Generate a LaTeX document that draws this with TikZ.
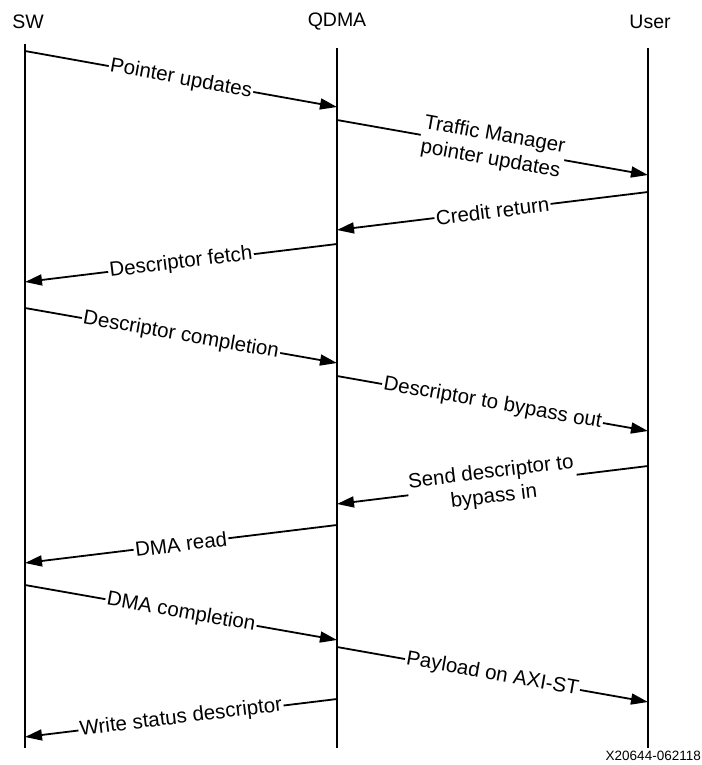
\documentclass[tikz,border=0pt]{standalone}
\usepackage{fontspec}
\setmainfont{Liberation Sans}
\usetikzlibrary{arrows.meta}
\begin{document}
\begin{tikzpicture}[x=1pt,y=-1pt,
  lifeline/.style={line width=2pt},
  msg/.style={line width=1.8pt,-{Triangle[length=17pt,width=11pt]}},
  lbl/.style={fill=white,inner xsep=1.5pt,inner ysep=1pt,sloped,align=center,
    font=\fontsize{20.5}{24.5}\selectfont},
  head/.style={font=\fontsize{19.5}{21}\selectfont},
  tag/.style={inner sep=0pt,font=\fontsize{13.5}{14}\selectfont}]
\useasboundingbox (0,0) rectangle (701,765);

% participants
\node[head] (swh) at (28,22) {SW};
\node[head] (qdh) at (337,22) {QDMA};
\node[head] (ush) at (650,22) {User};

% lifelines
\coordinate (swtop) at (25,44);
\coordinate (swbot) at (25,748);
\coordinate (qdtop) at (337,48);
\coordinate (qdbot) at (337,748);
\coordinate (ustop) at (648,48);
\coordinate (usbot) at (648,748);
\draw[lifeline] (swtop) -- (swbot);
\draw[lifeline] (qdtop) -- (qdbot);
\draw[lifeline] (ustop) -- (usbot);

% message end points
\coordinate (m1a) at (25,51);   \coordinate (m1b) at (337,107);
\coordinate (m2a) at (337,120); \coordinate (m2b) at (648,175);
\coordinate (m3a) at (648,192); \coordinate (m3b) at (337,230);
\coordinate (m4a) at (337,244); \coordinate (m4b) at (25,282);
\coordinate (m5a) at (25,308);  \coordinate (m5b) at (337,363);
\coordinate (m6a) at (337,376); \coordinate (m6b) at (648,431);
\coordinate (m7a) at (648,466); \coordinate (m7b) at (337,504);
\coordinate (m8a) at (337,525); \coordinate (m8b) at (25,563);
\coordinate (m9a) at (25,585);  \coordinate (m9b) at (337,640);
\coordinate (m10a) at (337,647); \coordinate (m10b) at (648,702);
\coordinate (m11a) at (337,699); \coordinate (m11b) at (25,737);

% messages
\draw[msg] (m1a) -- node[lbl] {Pointer updates} (m1b);
\draw[msg] (m2a) -- node[lbl] {Traffic Manager\\pointer updates} (m2b);
\draw[msg] (m3a) -- node[lbl] {Credit return} (m3b);
\draw[msg] (m4a) -- node[lbl] {Descriptor fetch} (m4b);
\draw[msg] (m5a) -- node[lbl] {Descriptor completion} (m5b);
\draw[msg] (m6a) -- node[lbl] {Descriptor to bypass out} (m6b);
\draw[msg] (m7a) -- node[lbl] {Send descriptor to\\bypass in} (m7b);
\draw[msg] (m8a) -- node[lbl] {DMA read} (m8b);
\draw[msg] (m9a) -- node[lbl] {DMA completion} (m9b);
\draw[msg] (m10a) -- node[lbl] {Payload on AXI-ST} (m10b);
\draw[msg] (m11a) -- node[lbl] {Write status descriptor} (m11b);

% figure number
\node[tag,anchor=east] (fig) at (701,756) {X20644-062118};
\end{tikzpicture}
\end{document}
